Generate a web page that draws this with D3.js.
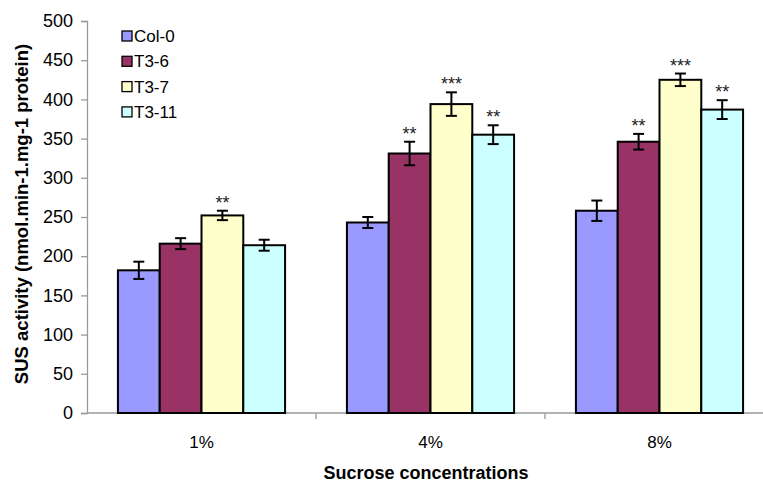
<!DOCTYPE html>
<html>
<head>
<meta charset="utf-8">
<script src="https://cdn.jsdelivr.net/npm/d3@7"></script>
<style>
  body { margin: 0; background: #fff; }
  svg { display: block; font-family: "Liberation Sans", Arial, sans-serif; }
</style>
</head>
<body>
<svg></svg>
<script>
const width = 763, height = 482

const concentrations = ['1%', '4%', '8%']
const lines = ['Col-0', 'T3-6', 'T3-7', 'T3-11']
const colors = ['#9999ff', '#993366', '#ffffcc', '#ccffff']

// means per line, one entry per concentration
const col0 = [182, 243, 258]
const t36 = [216, 331, 346]
const t37 = [252, 394, 425]
const t311 = [214, 355, 387]

const col0Err = [11, 7, 13]
const t36Err = [7, 15, 10]
const t37Err = [6, 15, 8]
const t311Err = [7, 12, 12]

const col0Sig = ['', '', '']
const t36Sig = ['', '**', '**']
const t37Sig = ['**', '***', '***']
const t311Sig = ['', '**', '**']

const yTicks = [0, 50, 100, 150, 200, 250, 300, 350, 400, 450, 500]

const series = [
  { name: lines[0], values: col0, err: col0Err, sig: col0Sig },
  { name: lines[1], values: t36, err: t36Err, sig: t36Sig },
  { name: lines[2], values: t37, err: t37Err, sig: t37Sig },
  { name: lines[3], values: t311, err: t311Err, sig: t311Sig }
]

const data = []
series.forEach((s, si) => {
  concentrations.forEach((c, ci) => {
    data.push({ cat: c, line: s.name, value: s.values[ci], err: s.err[ci], sig: s.sig[ci], color: colors[si] })
  })
})

const svg = d3.select('svg').attr('width', width).attr('height', height)

const margin = { left: 87, top: 21 }
const plotRight = 774
const plotBottom = 413

const xScale = d3.scaleBand()
  .domain(concentrations)
  .range([margin.left, plotRight])

const xInner = d3.scaleBand()
  .domain(lines)
  .range([0, xScale.bandwidth()])
  .paddingOuter(0.74)
  .paddingInner(0)

const yScale = d3.scaleLinear()
  .domain([0, 500])
  .range([plotBottom, margin.top])

// y axis
const yAxisG = svg.append('g')
  .attr('transform', `translate(${margin.left},0)`)
  .call(d3.axisLeft(yScale).tickValues(yTicks).tickSize(6).tickPadding(8))
yAxisG.select('.domain').attr('stroke', '#9a9a9a').attr('stroke-width', 1.3)
yAxisG.selectAll('.tick line').attr('stroke', '#9a9a9a').attr('stroke-width', 1.3)
yAxisG.selectAll('text').attr('font-size', 18).attr('fill', '#000')
  .attr('font-family', '"Liberation Sans", Arial, sans-serif')

// x axis
const xAxisG = svg.append('g')
  .attr('transform', `translate(0,${plotBottom})`)
xAxisG.append('line')
  .attr('x1', margin.left).attr('x2', plotRight)
  .attr('stroke', '#9a9a9a').attr('stroke-width', 1.3)
xAxisG.selectAll('.xtick')
  .data(concentrations)
  .enter().append('line')
    .attr('x1', d => xScale(d) + xScale.bandwidth())
    .attr('x2', d => xScale(d) + xScale.bandwidth())
    .attr('y1', 0).attr('y2', 6)
    .attr('stroke', '#9a9a9a').attr('stroke-width', 1.3)
xAxisG.selectAll('.xlabel')
  .data(concentrations)
  .enter().append('text')
    .attr('x', d => xScale(d) + xScale.bandwidth() / 2)
    .attr('y', 35)
    .attr('text-anchor', 'middle')
    .attr('font-size', 17)
    .text(d => d)

// bars
svg.append('g').selectAll('rect')
  .data(data)
  .enter().append('rect')
    .attr('x', d => xScale(d.cat) + xInner(d.line))
    .attr('y', d => yScale(d.value))
    .attr('width', xInner.bandwidth())
    .attr('height', d => plotBottom - yScale(d.value))
    .attr('fill', d => d.color)
    .attr('stroke', '#000')
    .attr('stroke-width', 2)

// error bars
const errG = svg.append('g').attr('stroke', '#000').attr('stroke-width', 2)
data.forEach(d => {
  const cx = xScale(d.cat) + xInner(d.line) + xInner.bandwidth() / 2
  const y1 = yScale(d.value + d.err)
  const y2 = yScale(d.value - d.err)
  errG.append('line').attr('x1', cx).attr('x2', cx).attr('y1', y1).attr('y2', y2)
  errG.append('line').attr('x1', cx - 5.5).attr('x2', cx + 5.5).attr('y1', y1).attr('y2', y1)
  errG.append('line').attr('x1', cx - 5.5).attr('x2', cx + 5.5).attr('y1', y2).attr('y2', y2)
})

// significance stars
svg.append('g').selectAll('text')
  .data(data.filter(d => d.sig))
  .enter().append('text')
    .attr('x', d => xScale(d.cat) + xInner(d.line) + xInner.bandwidth() / 2)
    .attr('y', d => yScale(d.value + d.err) - 2)
    .attr('text-anchor', 'middle')
    .attr('font-size', 18)
    .attr('fill', '#222')
    .text(d => d.sig)

// legend
const legend = svg.append('g').attr('transform', 'translate(122,36)')
lines.forEach((name, i) => {
  const row = legend.append('g').attr('transform', `translate(0,${i * 25.3})`)
  row.append('rect')
    .attr('x', 0).attr('y', -5)
    .attr('width', 10).attr('height', 10)
    .attr('fill', colors[i])
    .attr('stroke', '#000').attr('stroke-width', 1.3)
  row.append('text')
    .attr('x', 12).attr('y', 6)
    .attr('font-size', 17)
    .text(name)
})

// axis titles
svg.append('text')
  .attr('x', 426).attr('y', 479)
  .attr('text-anchor', 'middle')
  .attr('font-size', 18).attr('font-weight', 'bold')
  .text('Sucrose concentrations')

svg.append('text')
  .attr('transform', 'translate(28,214) rotate(-90)')
  .attr('text-anchor', 'middle')
  .attr('font-size', 18.5).attr('font-weight', 'bold')
  .text('SUS activity (nmol.min-1.mg-1 protein)')
</script>
</body>
</html>
